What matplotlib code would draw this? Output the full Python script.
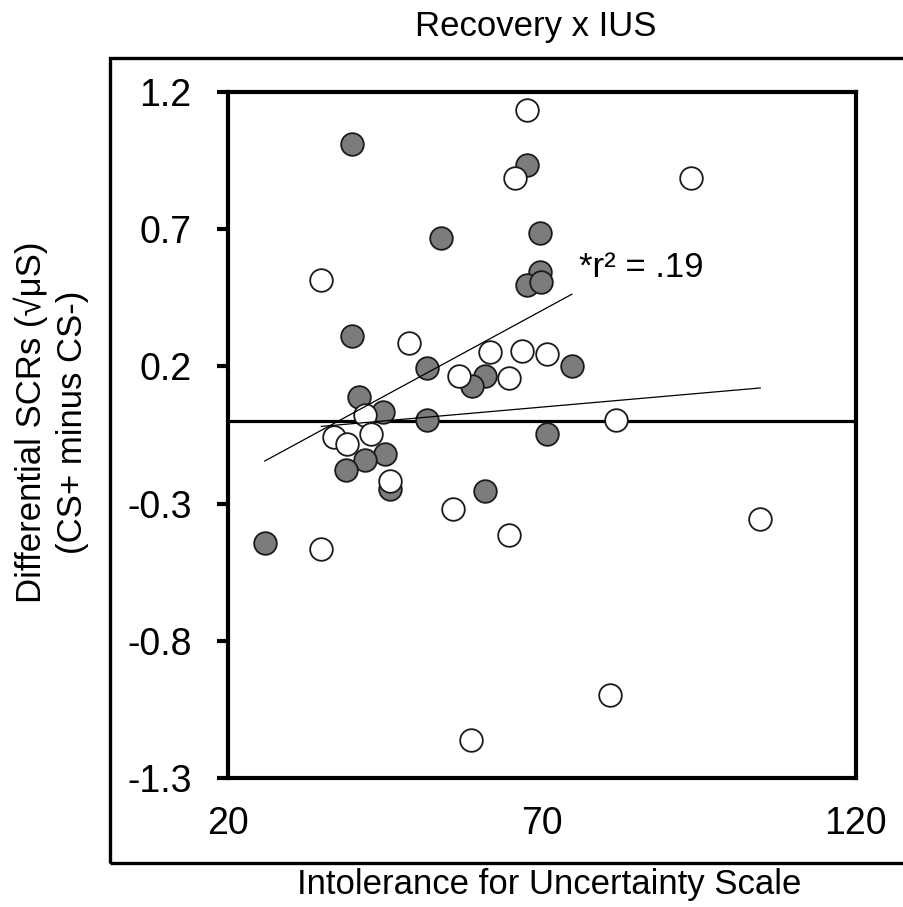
import numpy as np
import matplotlib
matplotlib.use("Agg")
import matplotlib.pyplot as plt
from matplotlib.patches import Rectangle

plt.rcParams['font.family'] = ['Liberation Sans', 'DejaVu Sans']

# Filled (gray) group
filled_x = [39.8, 67.7, 53.9, 69.7, 69.7, 67.7, 69.9, 39.8, 51.8, 60.9, 58.9,
            74.8, 40.9, 44.8, 51.8, 70.8, 45.0, 41.9, 38.9, 45.9, 60.9, 25.9]
filled_y = [1.010, 0.935, 0.667, 0.685, 0.543, 0.498, 0.507, 0.310, 0.195, 0.164, 0.127,
            0.201, 0.088, 0.034, 0.004, -0.047, -0.120, -0.142, -0.176, -0.245, -0.253, -0.445]

# Open (white) group
open_x = [67.7, 65.8, 34.9, 48.8, 61.8, 66.8, 70.8, 56.9, 64.8, 41.9, 81.8,
          36.9, 39.0, 42.8, 45.9, 55.8, 64.8, 34.9, 80.8, 58.8, 104.8, 93.8]
open_y = [1.135, 0.887, 0.513, 0.285, 0.252, 0.256, 0.246, 0.165, 0.159, 0.024, 0.004,
          -0.059, -0.081, -0.047, -0.218, -0.319, -0.413, -0.465, -0.996, -1.161, -0.356, 0.885]

x_ticks = [20, 70, 120]
y_ticks = [-1.3, -0.8, -0.3, 0.2, 0.7, 1.2]
y_ticklabels = ['-1.3', '-0.8', '-0.3', '0.2', '0.7', '1.2']

title = 'Recovery x IUS'
xlabel = 'Intolerance for Uncertainty Scale'
ylabel = 'Differential SCRs (\u221a\u03bcS)\n(CS+ minus CS-)'
annot = '*r\u00b2 = .19'

fig = plt.figure(figsize=(9.04, 9.07), dpi=100)
ax = fig.add_axes([0.2519, 0.1422, 0.6947, 0.7564])

ax.set_xlim(20, 120)
ax.set_ylim(-1.3, 1.2)

ax.axhline(0, color='black', lw=2.3, zorder=1)

ms = 265
ax.scatter(filled_x, filled_y, s=ms, facecolor='#7c7c7c', edgecolor='#1a1a1a',
           linewidths=1.3, zorder=3)
ax.scatter(open_x, open_y, s=ms, facecolor='white', edgecolor='#1a1a1a',
           linewidths=1.3, zorder=4)

# regression lines over each group's range
for gx, gy in ((filled_x, filled_y), (open_x, open_y)):
    gx = np.array(gx); gy = np.array(gy)
    m, b = np.polyfit(gx, gy, 1)
    xs = np.array([gx.min(), gx.max()])
    ax.plot(xs, m * xs + b, color='black', lw=0.9, zorder=5)

ax.text(76.0, 0.56, annot, fontsize=25, ha='left', va='center', zorder=6)

for s in ax.spines.values():
    s.set_linewidth(3)
ax.set_xticks(x_ticks)
ax.set_xticklabels([str(v) for v in x_ticks])
ax.set_yticks(y_ticks)
ax.set_yticklabels(y_ticklabels)
ax.tick_params(axis='y', direction='out', length=8, width=3, pad=18, labelsize=27)
ax.tick_params(axis='x', length=0, pad=20, labelsize=27)

fig.text(0.593, 0.971, title, fontsize=25, ha='center', va='center')
fig.text(0.607, 0.0243, xlabel, fontsize=25, ha='center', va='center')
fig.text(0.057, 0.534, ylabel, fontsize=25, ha='center', va='center',
         rotation=90, linespacing=1.3)

fig.patches.append(Rectangle((110 / 904, 44 / 907), 1.0, (863 - 58) / 907,
                             transform=fig.transFigure, fill=False,
                             edgecolor='black', lw=2.4, zorder=0))

fig.savefig('out.png', dpi=100)
